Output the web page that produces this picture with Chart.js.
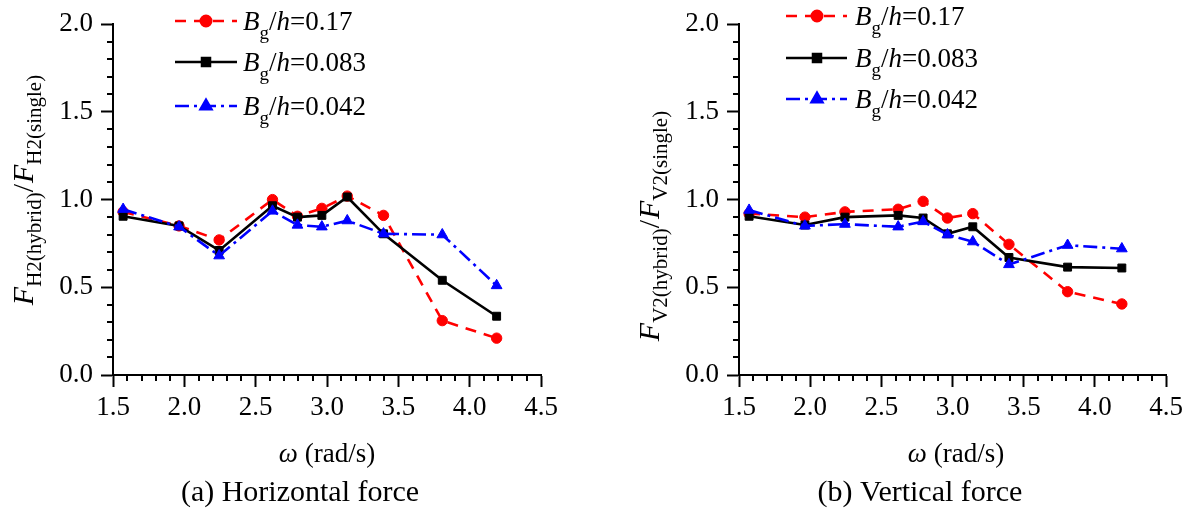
<!DOCTYPE html>
<html>
<head>
<meta charset="utf-8">
<script src="https://cdn.jsdelivr.net/npm/chart.js@4.4.1/dist/chart.umd.min.js"></script>
<style>
  html, body { margin: 0; padding: 0; background: #fff; }
  #wrap { display: flex; width: 1188px; height: 511px; }
  canvas { display: block; }
</style>
</head>
<body>
<div id="wrap">
  <canvas id="cH" width="594" height="511"></canvas>
  <canvas id="cV" width="594" height="511"></canvas>
</div>
<script>
// Wave frequency (rad/s)
const omega = [1.571, 1.963, 2.244, 2.618, 2.793, 2.964, 3.142, 3.396, 3.808, 4.189];

// Horizontal force ratio F_H2(hybrid) / F_H2(single)
const hRatio017 = [0.93, 0.85, 0.77, 1.00, 0.905, 0.95, 1.02, 0.91, 0.31, 0.21];
const hRatio083 = [0.905, 0.85, 0.71, 0.965, 0.90, 0.91, 1.015, 0.805, 0.54, 0.335];
const hRatio042 = [0.945, 0.845, 0.68, 0.935, 0.855, 0.845, 0.88, 0.805, 0.80, 0.51];

// Vertical force ratio F_V2(hybrid) / F_V2(single)
const vRatio017 = [0.92, 0.90, 0.93, 0.945, 0.99, 0.895, 0.92, 0.745, 0.475, 0.405];
const vRatio083 = [0.905, 0.855, 0.90, 0.91, 0.895, 0.805, 0.845, 0.67, 0.615, 0.61];
const vRatio042 = [0.94, 0.85, 0.86, 0.845, 0.875, 0.80, 0.76, 0.63, 0.74, 0.72];

// Gap ratios shown in the legend
const gapRatios = ['0.17', '0.083', '0.042'];

// Tick labels
const xTickLabels = ['1.5', '2.0', '2.5', '3.0', '3.5', '4.0', '4.5'];
const yTickLabels = ['0.0', '0.5', '1.0', '1.5', '2.0'];

const SERIF = '"Liberation Serif", serif';

const seriesStyles = [
  { color: '#ff0000', dash: [11, 8], pointStyle: 'circle', radius: 5.2, order: 2 },
  { color: '#000000', dash: [], pointStyle: 'rect', radius: 5.6, order: 1 },
  { color: '#0000ff', dash: [14, 5, 3, 5], pointStyle: 'triangle', radius: 6.2, order: 0 }
];

function toPoints(values) {
  return omega.map((w, i) => ({ x: w, y: values[i] }));
}

// Text made of pieces (italic / subscript), drawn left to right on one baseline
function measureRuns(ctx, runs) {
  let w = 0;
  for (const r of runs) {
    ctx.font = (r.it ? 'italic ' : '') + r.size + 'px ' + SERIF;
    w += ctx.measureText(r.t).width + (r.gap || 0);
  }
  return w;
}
function drawRuns(ctx, runs, x, y) {
  let cx = x;
  for (const r of runs) {
    ctx.font = (r.it ? 'italic ' : '') + r.size + 'px ' + SERIF;
    ctx.fillText(r.t, cx, y + (r.dy || 0));
    cx += ctx.measureText(r.t).width + (r.gap || 0);
  }
}

function legendRuns(val) {
  return [
    { t: 'B', it: true, size: 27 },
    { t: 'g', size: 19, dy: 9 },
    { t: '/', size: 27 },
    { t: 'h', it: true, size: 27 },
    { t: '=' + val, size: 27 }
  ];
}

function yTitleRuns(letter) {
  return [
    { t: 'F', it: true, size: 30 },
    { t: letter + '2(hybrid)', size: 21, dy: 8 },
    { t: '/', size: 30, gap: 1 },
    { t: 'F', it: true, size: 30 },
    { t: letter + '2(single)', size: 21, dy: 8 }
  ];
}

// Minor ticks, legend, axis titles and caption
const decorPlugin = {
  id: 'decor',
  afterDraw(chart, args, o) {
    const ctx = chart.ctx;
    const xs = chart.scales.x, ys = chart.scales.y;
    const area = chart.chartArea;
    ctx.save();
    // minor ticks every 0.1
    ctx.strokeStyle = '#000';
    ctx.lineWidth = 2;
    ctx.beginPath();
    for (let k = 16; k <= 44; k++) {
      if (k % 5 === 0) continue;
      const px = Math.round(xs.getPixelForValue(k / 10));
      ctx.moveTo(px, area.bottom);
      ctx.lineTo(px, area.bottom + 6);
    }
    for (let k = 1; k <= 19; k++) {
      if (k % 5 === 0) continue;
      const py = Math.round(ys.getPixelForValue(k / 10));
      ctx.moveTo(area.left, py);
      ctx.lineTo(area.left - 6, py);
    }
    ctx.stroke();

    // legend
    const L = o.legend;
    chart.data.datasets.forEach((ds, i) => {
      const st = seriesStyles[i];
      const y = L.rows[i];
      ctx.strokeStyle = st.color;
      ctx.fillStyle = st.color;
      ctx.lineWidth = 2.6;
      ctx.setLineDash(st.dash);
      ctx.beginPath();
      ctx.moveTo(L.x0, y);
      ctx.lineTo(L.x1, y);
      ctx.stroke();
      ctx.setLineDash([]);
      Chart.helpers.drawPoint(ctx, { pointStyle: st.pointStyle, radius: st.radius, borderWidth: 1, rotation: 0 }, L.xm, y);
      ctx.fillStyle = '#000';
      ctx.textAlign = 'left';
      ctx.textBaseline = 'alphabetic';
      drawRuns(ctx, legendRuns(gapRatios[i]), L.tx, y + 9);
    });

    // y-axis title (rotated)
    ctx.fillStyle = '#000';
    ctx.textBaseline = 'alphabetic';
    ctx.textAlign = 'left';
    const runs = yTitleRuns(o.letter);
    const w = measureRuns(ctx, runs);
    ctx.save();
    ctx.translate(o.yTitle.x, o.yTitle.y);
    ctx.rotate(-Math.PI / 2);
    drawRuns(ctx, runs, -w / 2, 0);
    ctx.restore();

    // x-axis title
    const xr = [
      { t: 'ω', it: true, size: 27 },
      { t: ' (rad/s)', size: 27 }
    ];
    const xw = measureRuns(ctx, xr);
    drawRuns(ctx, xr, o.xTitle.x - xw / 2, o.xTitle.y);

    // caption
    ctx.font = '30px ' + SERIF;
    ctx.textAlign = 'center';
    ctx.fillText(o.caption, o.capPos.x, o.capPos.y);
    ctx.restore();
  }
};

function makeChart(id, series, opts) {
  const datasets = series.map((vals, i) => {
    const st = seriesStyles[i];
    return {
      label: 'Bg/h=' + gapRatios[i],
      data: toPoints(vals),
      borderColor: st.color,
      backgroundColor: st.color,
      borderWidth: 2.6,
      borderDash: st.dash,
      pointStyle: st.pointStyle,
      pointRadius: st.radius,
      pointBorderWidth: 1,
      pointBackgroundColor: st.color,
      pointBorderColor: st.color,
      tension: 0,
      order: st.order,
      clip: false
    };
  });
  return new Chart(document.getElementById(id), {
    type: 'line',
    data: { datasets },
    plugins: [decorPlugin],
    options: {
      responsive: false,
      animation: false,
      layout: { padding: { left: 0, right: opts.padRight, top: 17, bottom: 0 } },
      plugins: {
        legend: { display: false },
        tooltip: { enabled: false },
        decor: opts.decor
      },
      scales: {
        x: {
          type: 'linear',
          min: 1.5, max: 4.5,
          afterFit: s => { s.height = 136; },
          border: { display: true, color: '#000', width: 2 },
          grid: { display: true, drawOnChartArea: false, drawTicks: true, tickLength: 12, tickColor: '#000', tickWidth: 2 },
          ticks: {
            stepSize: 0.5,
            padding: 5,
            color: '#000',
            font: { family: SERIF, size: 27 },
            maxRotation: 0,
            callback: v => xTickLabels[Math.round((v - 1.5) / 0.5)]
          }
        },
        y: {
          type: 'linear',
          min: 0, max: 2,
          afterFit: s => { s.width = opts.yWidth; },
          border: { display: true, color: '#000', width: 2 },
          grid: { display: true, drawOnChartArea: false, drawTicks: true, tickLength: 12, tickColor: '#000', tickWidth: 2 },
          ticks: {
            stepSize: 0.5,
            padding: 8,
            color: '#000',
            font: { family: SERIF, size: 27 },
            callback: v => yTickLabels[Math.round(v / 0.5)]
          }
        }
      }
    }
  });
}

function build() {
  makeChart('cH', [hRatio017, hRatio083, hRatio042], {
    padRight: 53,
    yWidth: 113,
    decor: {
      letter: 'H',
      legend: { x0: 175, x1: 237, xm: 206, tx: 243, rows: [21, 62, 106] },
      yTitle: { x: 33, y: 190 },
      xTitle: { x: 327, y: 462 },
      caption: '(a) Horizontal force',
      capPos: { x: 300, y: 501 }
    }
  });

  makeChart('cV', [vRatio017, vRatio083, vRatio042], {
    padRight: 21,
    yWidth: 145,
    decor: {
      letter: 'V',
      legend: { x0: 192, x1: 253, xm: 223, tx: 261, rows: [16, 58, 99] },
      yTitle: { x: 65, y: 226 },
      xTitle: { x: 362, y: 462 },
      caption: '(b) Vertical force',
      capPos: { x: 326, y: 501 }
    }
  });
}

// make sure the serif face is ready before drawing on canvas
Promise.all([
  document.fonts.load('27px "Liberation Serif"'),
  document.fonts.load('italic 27px "Liberation Serif"')
]).then(build, build);
</script>
</body>
</html>
